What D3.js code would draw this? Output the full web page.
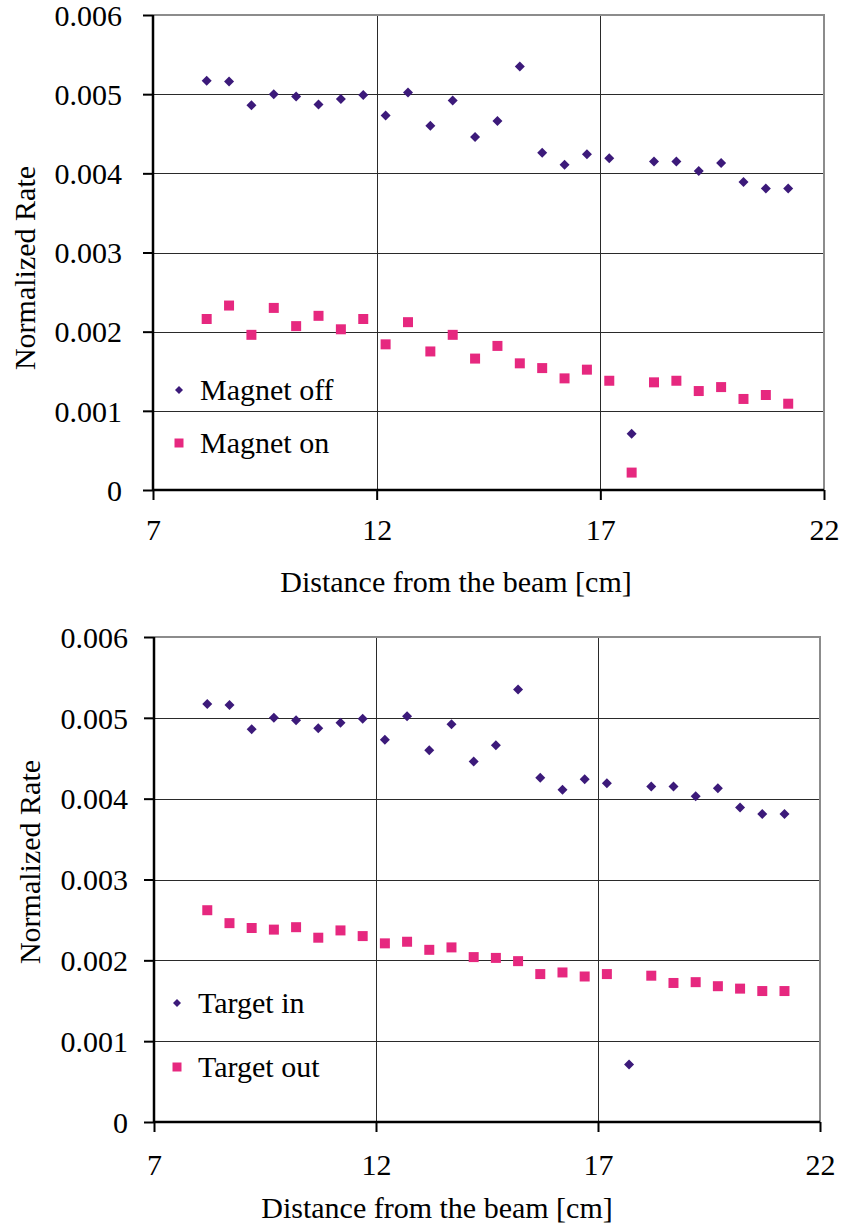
<!DOCTYPE html>
<html>
  <head>
    <meta charset="utf-8">
    <title>Normalized rate vs distance</title>
    <style>
      body { margin: 0; background: #fff; }
      text { font-family: "Liberation Serif", "Times New Roman", serif; fill: #000; }
    </style>
  </head>
  <body>
    <script src="https://cdn.jsdelivr.net/npm/d3@7"></script>
    <script type="text/javascript">
      // distance from the beam [cm]
      var distance = [8.2, 8.7, 9.2, 9.7, 10.2, 10.7, 11.2, 11.7, 12.2, 12.7,
                      13.2, 13.7, 14.2, 14.7, 15.2, 15.7, 16.2, 16.7, 17.2, 17.7,
                      18.2, 18.7, 19.2, 19.7, 20.2, 20.7, 21.2];

      var magnetOff = [0.00517, 0.00516, 0.00486, 0.00500, 0.00497, 0.00487, 0.00494, 0.00499, 0.00473, 0.00502,
                       0.00460, 0.00492, 0.00446, 0.00466, 0.00535, 0.00426, 0.00411, 0.00424, 0.00419, 0.00071,
                       0.00415, 0.00415, 0.00403, 0.00413, 0.00389, 0.00381, 0.00381];
      var magnetOn = [0.00216, 0.00233, 0.00196, 0.00230, 0.00207, 0.00220, 0.00203, 0.00216, 0.00184, 0.00212,
                      0.00175, 0.00196, 0.00166, 0.00182, 0.00160, 0.00154, 0.00141, 0.00152, 0.00138, 0.00022,
                      0.00136, 0.00138, 0.00125, 0.00130, 0.00115, 0.00120, 0.00109];

      var targetIn = [0.00517, 0.00516, 0.00486, 0.00500, 0.00497, 0.00487, 0.00494, 0.00499, 0.00473, 0.00502,
                      0.00460, 0.00492, 0.00446, 0.00466, 0.00535, 0.00426, 0.00411, 0.00424, 0.00419, 0.00071,
                      0.00415, 0.00415, 0.00403, 0.00413, 0.00389, 0.00381, 0.00381];
      var targetOut = [0.00262, 0.00246, 0.00240, 0.00238, 0.00241, 0.00228, 0.00237, 0.00230, 0.00221, 0.00223,
                       0.00213, 0.00216, 0.00204, 0.00203, 0.00199, 0.00183, 0.00185, 0.00180, 0.00183, null,
                       0.00181, 0.00172, 0.00173, 0.00168, 0.00165, 0.00162, 0.00162];

      var xTicks = [7, 12, 17, 22];
      var yTicks = [0, 0.001, 0.002, 0.003, 0.004, 0.005, 0.006];
      var xTitle = "Distance from the beam [cm]";
      var yTitle = "Normalized Rate";

      var purple = "#3c1a7a";
      var pink = "#e6287f";

      var svg = d3.select("body").append("svg")
                  .attr("width", 841)
                  .attr("height", 1227);

      var diamond = {
        draw: function(ctx, size) {
          var r = Math.sqrt(size) / 2;
          ctx.moveTo(0, -r); ctx.lineTo(r, 0); ctx.lineTo(0, r); ctx.lineTo(-r, 0); ctx.closePath();
        }
      };

      function drawChart(c) {
        var g = svg.append("g");
        var x = d3.scaleLinear().domain([7, 22]).range([c.left, c.right]);
        var y = d3.scaleLinear().domain([0, 0.006]).range([c.bottom, c.top]);

        // gridlines
        g.selectAll(".hgrid").data(yTicks.slice(1, 6)).enter().append("line")
          .attr("x1", c.left).attr("x2", c.right)
          .attr("y1", function(d) { return Math.round(y(d)) + 0.5; })
          .attr("y2", function(d) { return Math.round(y(d)) + 0.5; })
          .attr("stroke", "#2a2a2a").attr("stroke-width", 1);
        g.selectAll(".vgrid").data(xTicks.slice(1, 3)).enter().append("line")
          .attr("y1", c.top).attr("y2", c.bottom)
          .attr("x1", function(d) { return Math.round(x(d)) + 0.5; })
          .attr("x2", function(d) { return Math.round(x(d)) + 0.5; })
          .attr("stroke", "#2a2a2a").attr("stroke-width", 1);

        // plot border (top and right, grey)
        g.append("path")
          .attr("d", "M" + c.left + "," + c.top + "H" + c.right + "V" + c.bottom)
          .attr("fill", "none").attr("stroke", "#8c8c8c").attr("stroke-width", 2);

        // axes
        var yAxis = d3.axisLeft(y).tickValues(yTicks).tickSize(10)
                      .tickFormat(function(d) { return d === 0 ? "0" : d3.format(".3f")(d); });
        var ya = g.append("g").attr("transform", "translate(" + c.left + ",0)").call(yAxis);
        var xAxis = d3.axisBottom(x).tickValues(xTicks).tickSize(10).tickFormat(d3.format("d"));
        var xa = g.append("g").attr("transform", "translate(0," + c.bottom + ")").call(xAxis);

        [ya, xa].forEach(function(a) {
          a.select(".domain").attr("stroke", "#000").attr("stroke-width", 2.5);
          a.selectAll(".tick line").attr("stroke", "#000").attr("stroke-width", 2);
          a.selectAll("text").attr("font-size", 30).attr("font-family", "Liberation Serif").attr("fill", "#000");
        });
        ya.selectAll(".domain").attr("d", "M0," + c.bottom + "V" + c.top);
        ya.selectAll("text").attr("x", -(c.left - c.tickRight)).attr("dy", "0.34em");
        xa.selectAll("text").attr("y", c.xTickBase - c.bottom).attr("dy", 0);
        xa.selectAll(".domain").attr("d", "M" + c.left + ",0H" + c.right);

        // titles
        g.append("text")
          .attr("x", c.xTitleX).attr("y", c.xTitleBase)
          .attr("text-anchor", "middle").attr("font-size", 30)
          .text(xTitle);
        g.append("text")
          .attr("transform", "translate(" + c.yTitleBase + "," + c.yTitleY + ") rotate(-90)")
          .attr("text-anchor", "middle").attr("font-size", 30)
          .text(yTitle);

        // series
        c.series.forEach(function(s) {
          var sym = d3.symbol().type(s.shape === "diamond" ? diamond : d3.symbolSquare).size(s.size);
          var pts = distance.map(function(d, i) { return [d, s.values[i]]; })
                            .filter(function(p) { return p[1] != null; });
          g.append("g").selectAll("path").data(pts).enter().append("path")
            .attr("transform", function(p) { return "translate(" + x(p[0]) + "," + y(p[1]) + ")"; })
            .attr("d", sym)
            .attr("fill", s.color);
        });

        // legend
        c.series.forEach(function(s, i) {
          var ly = c.legendY[i];
          var sym = d3.symbol().type(s.shape === "diamond" ? diamond : d3.symbolSquare).size(s.legendSize);
          g.append("path")
            .attr("transform", "translate(" + c.legendX + "," + ly + ")")
            .attr("d", sym).attr("fill", s.color);
          g.append("text")
            .attr("x", c.legendX + 21).attr("y", ly + 10)
            .attr("font-size", 30)
            .text(s.name);
        });
      }

      drawChart({
        left: 153, right: 824, top: 15, bottom: 490,
        tickRight: 122, xTickBase: 540,
        xTitleX: 456, xTitleBase: 592,
        yTitleY: 268, yTitleBase: 35,
        legendX: 179, legendY: [390, 443],
        series: [
          { name: "Magnet off", values: magnetOff, color: purple, shape: "diamond", size: 100, legendSize: 64 },
          { name: "Magnet on", values: magnetOn, color: pink, shape: "square", size: 100, legendSize: 81 }
        ]
      });

      drawChart({
        left: 154, right: 820, top: 637, bottom: 1122,
        tickRight: 128, xTickBase: 1175,
        xTitleX: 437, xTitleBase: 1218,
        yTitleY: 862, yTitleBase: 40,
        legendX: 177, legendY: [1003, 1067],
        series: [
          { name: "Target in", values: targetIn, color: purple, shape: "diamond", size: 100, legendSize: 64 },
          { name: "Target out", values: targetOut, color: pink, shape: "square", size: 100, legendSize: 81 }
        ]
      });
    </script>
  </body>
</html>
